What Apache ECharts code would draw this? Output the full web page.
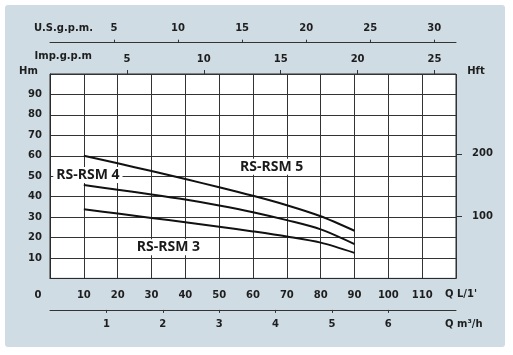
<!DOCTYPE html>
<html>
<head>
<meta charset="utf-8">
<script src="https://cdn.jsdelivr.net/npm/echarts@6/dist/echarts.min.js"></script>
<style>
html,body{margin:0;padding:0;background:#fff;}
#c{width:513px;height:355px;}
</style>
</head>
<body>
<div id="c"></div>
<script>
// ---- data ----
const flowLpm = [10, 20, 30, 40, 50, 60, 70, 80, 90];
const headRSM5 = [60, 56.3, 52.5, 48.6, 44.6, 40.4, 35.8, 30.4, 23.3];
const headRSM4 = [45.7, 43.4, 41.1, 38.6, 35.7, 32.4, 28.5, 24.0, 16.8];
const headRSM3 = [33.8, 31.7, 29.6, 27.5, 25.3, 23.0, 20.5, 17.5, 12.5];
const curveNames = ['RS-RSM 5', 'RS-RSM 4', 'RS-RSM 3'];
const labelAnchors = [[65.5, 54.6], [11.2, 50.6], [35, 15.2]];

const lpmTicks = [0, 10, 20, 30, 40, 50, 60, 70, 80, 90, 100, 110];
const hmTicks = [10, 20, 30, 40, 50, 60, 70, 80, 90];
const hftTicks = [100, 200];
const m3hTicks = [1, 2, 3, 4, 5, 6];
const usGpmTicks = [5, 10, 15, 20, 25, 30];
const impGpmTicks = [5, 10, 15, 20, 25];

const LPM_MAX = 120, HM_MAX = 100;
const M3H_MAX = LPM_MAX * 0.06;
const USGPM_MAX = LPM_MAX / 3.78541;
const IMPGPM_MAX = LPM_MAX / 4.54609;
const HFT_MAX = HM_MAX / 0.3048;

// ---- styles ----
const FONT = 'DejaVu Sans';
const TXT = '#1e1e1e';
const lbl = {fontFamily: FONT, fontSize: 10, fontWeight: 'bold', color: TXT};
const richName = (pad) => ({rich: {a: Object.assign({}, lbl, {padding: pad})}});
const tickStyle = {color: '#333333', width: 1};

const chart = echarts.init(document.getElementById('c'), null, {renderer: 'canvas'});
const heads = [headRSM5, headRSM4, headRSM3];

chart.setOption({
  animation: false,
  backgroundColor: '#ffffff',
  graphic: [{
    type: 'rect', z: -10, silent: true,
    shape: {x: 5, y: 5, width: 500, height: 342, r: 3},
    style: {fill: '#cfdce4'}
  }],
  grid: {
    left: 50, top: 74, right: 57, bottom: 76.6,
    containLabel: false, outerBoundsMode: 'none',
    show: true, backgroundColor: '#ffffff', borderColor: '#2a2a2a', borderWidth: 1
  },
  xAxis: [
    { // L/min
      type: 'value', position: 'bottom', min: 0, max: LPM_MAX, interval: 10,
      name: "{a|Q L/1'}", nameLocation: 'end', nameGap: -11, nameMoveOverlap: false,
      nameTextStyle: richName([33, 0, 0, 0]),
      axisLine: {show: true, onZero: false, lineStyle: {color: '#2a2a2a', width: 1}},
      axisTick: {show: false},
      axisLabel: Object.assign({}, lbl, {
        margin: 12, customValues: lpmTicks,
        formatter: v => v === 0 ? '{z|0}' : String(v),
        rich: {z: Object.assign({}, lbl, {padding: [0, 24, 0, 0]})}
      }),
      splitLine: {show: true, lineStyle: {color: '#333333', width: 1}}
    },
    { // m3/h
      type: 'value', position: 'bottom', offset: 31.5, min: 0, max: M3H_MAX,
      name: '{a|Q m³/h}', nameLocation: 'end', nameGap: -11, nameMoveOverlap: false,
      nameTextStyle: richName([30, 0, 0, 0]),
      axisLine: {show: true, onZero: false, lineStyle: {color: '#333333', width: 1}},
      axisTick: {show: true, length: 3, customValues: m3hTicks, lineStyle: tickStyle},
      axisLabel: Object.assign({}, lbl, {margin: 10, customValues: m3hTicks}),
      splitLine: {show: false}
    },
    { // US gpm
      type: 'value', position: 'top', offset: 31.3, min: 0, max: USGPM_MAX,
      name: '{a|U.S.g.p.m.}', nameLocation: 'start', nameGap: -43, nameMoveOverlap: false,
      nameTextStyle: richName([0, 0, 28, 0]),
      axisLine: {show: true, onZero: false, lineStyle: {color: '#333333', width: 1}},
      axisTick: {show: true, length: 3, customValues: usGpmTicks, lineStyle: tickStyle},
      axisLabel: Object.assign({}, lbl, {margin: 9, customValues: usGpmTicks}),
      splitLine: {show: false}
    },
    { // Imp gpm
      type: 'value', position: 'top', offset: 0, min: 0, max: IMPGPM_MAX,
      name: '{a|Imp.g.p.m}', nameLocation: 'start', nameGap: -42, nameMoveOverlap: false,
      nameTextStyle: richName([0, 0, 36, 0]),
      axisLine: {show: false, onZero: false},
      axisTick: {show: true, length: 4, customValues: impGpmTicks, lineStyle: tickStyle},
      axisLabel: Object.assign({}, lbl, {margin: 10, customValues: impGpmTicks}),
      splitLine: {show: false}
    }
  ],
  yAxis: [
    { // Hm
      type: 'value', position: 'left', min: 0, max: HM_MAX, interval: 10,
      name: 'Hm', nameLocation: 'end', nameGap: -2, nameMoveOverlap: false,
      nameTextStyle: Object.assign({}, lbl, {padding: [0, 43, 0, 0]}),
      axisLine: {show: true, onZero: false, lineStyle: {color: '#2a2a2a', width: 1}},
      axisTick: {show: false},
      axisLabel: Object.assign({}, lbl, {margin: 8, customValues: hmTicks}),
      splitLine: {show: true, lineStyle: {color: '#333333', width: 1}}
    },
    { // Hft
      type: 'value', position: 'right', min: 0, max: HFT_MAX,
      name: 'Hft', nameLocation: 'end', nameGap: -2, nameMoveOverlap: false,
      nameTextStyle: Object.assign({}, lbl, {padding: [0, 0, 0, 40]}),
      axisLine: {show: false, onZero: false},
      axisTick: {show: true, length: 6, customValues: hftTicks, lineStyle: tickStyle},
      axisLabel: Object.assign({}, lbl, {margin: 16, customValues: hftTicks}),
      splitLine: {show: false}
    }
  ],
  series: heads.map((h, i) => ({
    type: 'line', name: curveNames[i], xAxisIndex: 0, yAxisIndex: 0,
    data: flowLpm.map((x, j) => [x, h[j]]),
    smooth: 0.3, showSymbol: false, symbol: 'none',
    lineStyle: {color: '#111111', width: 2},
    z: 5,
    markPoint: {
      symbol: 'rect', symbolSize: 0, silent: true,
      data: [{coord: labelAnchors[i], value: curveNames[i]}],
      label: {
        show: true, position: 'inside', formatter: curveNames[i],
        fontFamily: 'Open Sans', fontWeight: 'bold', fontSize: 14, color: '#1a1a1a',
        backgroundColor: '#ffffff', padding: [1, 3]
      }
    }
  }))
});
</script>
</body>
</html>
